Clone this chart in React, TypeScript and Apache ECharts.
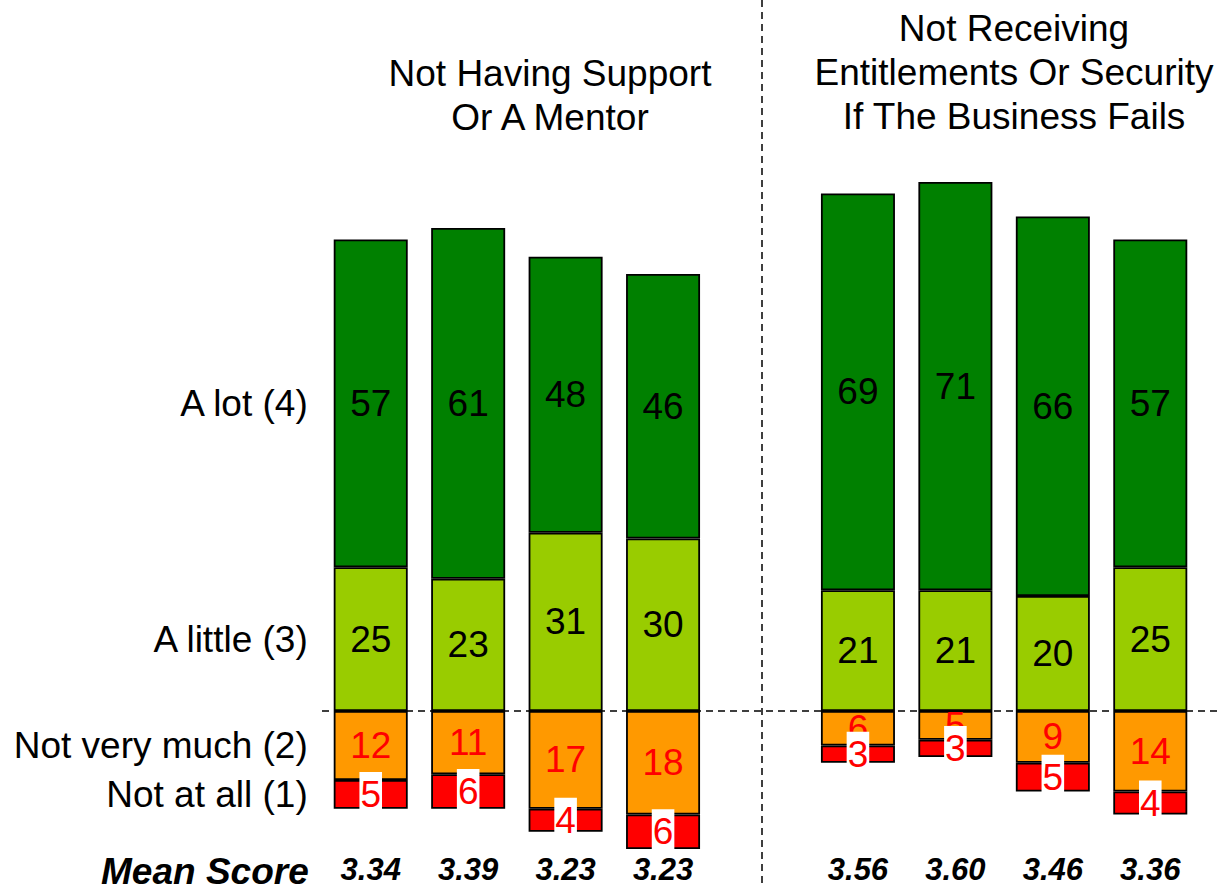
import React, { useEffect, useRef } from "react";
import * as echarts from "echarts";

// Bars per group (four waves each), with an empty slot separating the two groups
const barKeys = ["g1-1", "g1-2", "g1-3", "g1-4", "gap", "g2-1", "g2-2", "g2-3", "g2-4"];
const meanScores = ["3.34", "3.39", "3.23", "3.23", "", "3.56", "3.60", "3.46", "3.36"];

// Percentages per response level
const aLot = [57, 61, 48, 46, null, 69, 71, 66, 57];
const aLittle = [25, 23, 31, 30, null, 21, 21, 20, 25];
const notVeryMuch = [12, 11, 17, 18, null, 6, 5, 9, 14];
const notAtAll = [5, 6, 4, 6, null, 3, 3, 5, 4];

const levelLabels = ["A lot (4)", "A little (3)", "Not very much (2)", "Not at all (1)"];
const groupTitles = [
  "Not Having Support\nOr A Mentor",
  "Not Receiving\nEntitlements Or Security\nIf The Business Fails",
];
const meanLabel = "Mean Score";

const FONT = '"Liberation Sans", Arial, Helvetica, sans-serif';
const BAR_W = 74;
const TEXT_SIZE = 37;

const neg = (arr: (number | null)[]) => arr.map((v) => (v == null ? null : -v));

function barSeries(
  name: string,
  data: (number | null)[],
  color: string,
  textColor: string,
  boxed: boolean
) {
  return {
    name,
    type: "bar",
    stack: "total",
    data,
    barWidth: BAR_W,
    itemStyle: { color, borderColor: "#000", borderWidth: 1.8 },
    label: {
      show: true,
      position: "inside",
      color: textColor,
      fontSize: TEXT_SIZE,
      fontFamily: FONT,
      textBorderWidth: 0,
      formatter: (p: any) => String(Math.abs(p.value)),
      ...(boxed ? { backgroundColor: "#fff", padding: [4, 1] } : {}),
    },
  };
}

export default function App() {
  const ref = useRef<HTMLDivElement>(null);

  useEffect(() => {
    if (!ref.current) return;
    const chart = echarts.init(ref.current, undefined, { renderer: "svg" });

    chart.setOption({
      animation: false,
      backgroundColor: "#fff",
      grid: { left: 322, right: 18, top: 136, bottom: 38 },
      xAxis: {
        type: "category",
        data: barKeys,
        axisLine: { show: false },
        axisTick: { show: false },
        axisLabel: {
          interval: 0,
          margin: 5,
          fontSize: 31,
          fontWeight: "bold",
          fontStyle: "italic",
          fontFamily: FONT,
          color: "#000",
          formatter: (_v: string, i: number) => meanScores[i],
        },
      },
      yAxis: { type: "value", min: -24, max: 100, show: false, splitLine: { show: false } },
      series: [
        barSeries("Not very much (2)", neg(notVeryMuch), "#FF9900", "#FF0000", false),
        barSeries("Not at all (1)", neg(notAtAll), "#FF0000", "#FF0000", true),
        barSeries("A little (3)", aLittle, "#99CC00", "#000", false),
        barSeries("A lot (4)", aLot, "#008000", "#000", false),
      ],
    });

    // Annotations placed from the axes' own scales
    const px = (i: number, v: number) => chart.convertToPixel({ gridIndex: 0 }, [i, v]) as number[];
    const y0 = px(0, 0)[1];
    const gapX = px(4, 0)[0];
    const firstX = px(0, 0)[0];
    const labelRight = firstX - BAR_W / 2 - 27;
    const w = chart.getWidth();
    const h = chart.getHeight();

    const levelMids = [
      (aLittle[0] as number) + (aLot[0] as number) / 2,
      (aLittle[0] as number) / 2,
      -(notVeryMuch[0] as number) / 2,
      -((notVeryMuch[0] as number) + (notAtAll[0] as number) / 2),
    ];

    const textStyle = (text: string, font: string, align: string, vAlign: string, extra: any = {}) => ({
      text,
      font,
      fill: "#000",
      align,
      verticalAlign: vAlign,
      textAlign: align,
      textVerticalAlign: vAlign,
      ...extra,
    });

    chart.setOption({
      graphic: [
        ...levelLabels.map((t, k) => ({
          type: "text",
          x: labelRight + 1,
          y: px(0, levelMids[k])[1],
          style: textStyle(t, `${TEXT_SIZE}px ${FONT}`, "right", "middle"),
        })),
        {
          type: "text",
          x: labelRight + 2,
          y: 871,
          style: textStyle(meanLabel, `italic bold ${TEXT_SIZE}px ${FONT}`, "right", "middle"),
        },
        {
          type: "text",
          x: 550,
          y: 51,
          style: textStyle(groupTitles[0], `${TEXT_SIZE}px ${FONT}`, "center", "top", { lineHeight: 44 }),
        },
        {
          type: "text",
          x: 1014,
          y: 6,
          style: textStyle(groupTitles[1], `${TEXT_SIZE}px ${FONT}`, "center", "top", { lineHeight: 44 }),
        },
        {
          type: "line",
          z: 100,
          shape: { x1: 322, y1: y0, x2: w, y2: y0 },
          style: { stroke: "#000", lineWidth: 1.5, lineDash: [7, 5] },
        },
        {
          type: "line",
          z: 100,
          shape: { x1: gapX + 1.5, y1: 0, x2: gapX + 1.5, y2: h },
          style: { stroke: "#000", lineWidth: 1.5, lineDash: [7, 5] },
        },
      ],
    });

    return () => chart.dispose();
  }, []);

  return (
    <div
      ref={ref}
      style={{ position: "fixed", left: 0, top: 0, width: 1217, height: 887, background: "#fff" }}
    />
  );
}
